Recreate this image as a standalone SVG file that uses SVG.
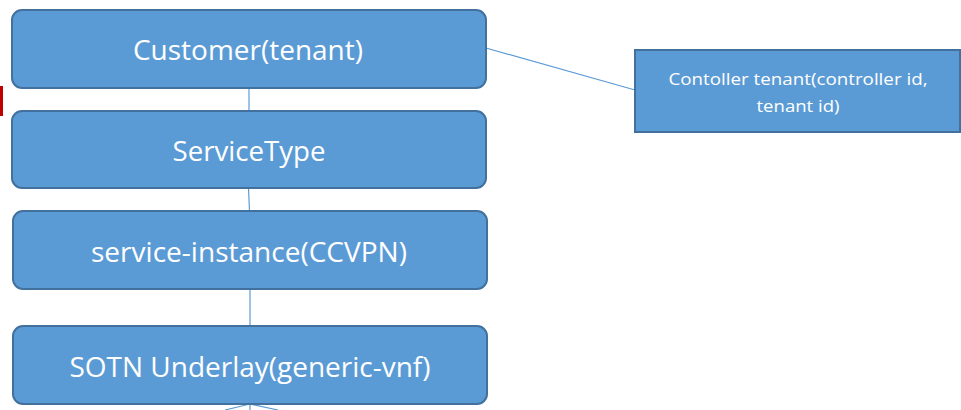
<svg xmlns="http://www.w3.org/2000/svg" width="961" height="410" viewBox="0 0 961 410">
<style>
.box{fill:#5B9BD5;stroke:#41719C;stroke-width:2}
.lbl{fill:#fff;font-family:"Open Sans","Liberation Sans",sans-serif;text-anchor:middle}
.big{font-size:28px}
.sm{font-size:15.5px}
.con{stroke:#5B9BD5;stroke-width:1.2;fill:none}
</style>
<rect x="0" y="86" width="3" height="30" fill="#C00000"/>
<g id="connectors">
<line class="con" x1="249" y1="88" x2="249" y2="111"/>
<line class="con" x1="248.5" y1="188" x2="249.5" y2="211"/>
<line class="con" x1="250" y1="289" x2="250" y2="326"/>
<line class="con" x1="486" y1="48" x2="635" y2="90"/>
<line class="con" x1="250" y1="404" x2="250" y2="410"/>
<line class="con" x1="250" y1="404" x2="225" y2="410"/>
<line class="con" x1="250" y1="404" x2="278" y2="410"/>
</g>
<g id="customer">
<rect class="box" x="12" y="10" width="474" height="78" rx="10"/>
<text class="lbl big" x="248" y="60" textLength="230" lengthAdjust="spacingAndGlyphs">Customer(tenant)</text>
</g>
<g id="servicetype">
<rect class="box" x="12" y="111" width="474" height="77" rx="10"/>
<text class="lbl big" x="249" y="161" textLength="153" lengthAdjust="spacingAndGlyphs">ServiceType</text>
</g>
<g id="serviceinstance">
<rect class="box" x="13" y="211" width="474" height="78" rx="10"/>
<text class="lbl big" x="249" y="262" textLength="316" lengthAdjust="spacingAndGlyphs">service-instance(CCVPN)</text>
</g>
<g id="sotn">
<rect class="box" x="13" y="326" width="474" height="78" rx="10"/>
<text class="lbl big" x="250" y="377" textLength="361" lengthAdjust="spacingAndGlyphs">SOTN Underlay(generic-vnf)</text>
</g>
<g id="controller">
<rect class="box" x="635" y="50" width="325" height="82"/>
<text class="lbl sm" x="798" y="85" textLength="259" lengthAdjust="spacingAndGlyphs">Contoller tenant(controller id,</text>
<text class="lbl sm" x="798" y="112" textLength="83" lengthAdjust="spacingAndGlyphs">tenant id)</text>
</g>
</svg>
